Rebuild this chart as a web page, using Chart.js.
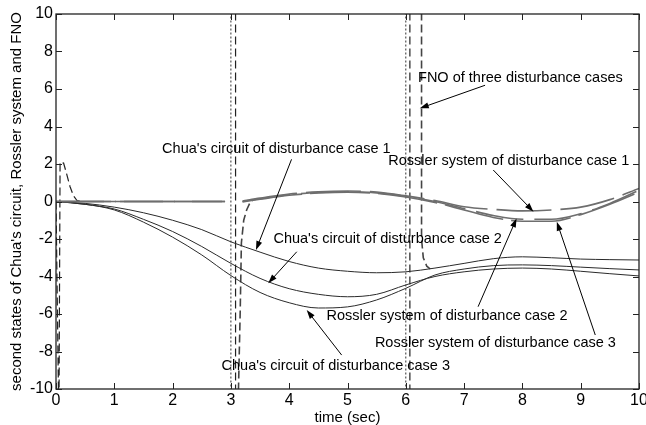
<!DOCTYPE html>
<html>
<head>
<meta charset="utf-8">
<script src="https://cdn.jsdelivr.net/npm/chart.js@4/dist/chart.umd.min.js"></script>
<style>
  html, body { margin: 0; padding: 0; background: #fff; }
  #wrap { width: 646px; height: 425px; }
</style>
</head>
<body>
<div id="wrap"><canvas id="chart"></canvas></div>
<script>
// time axis (sec) for the Chua's circuit states
const times = [0, 0.5, 1, 1.5, 2, 2.5, 3, 3.5, 4, 4.5, 5, 5.5, 6, 6.5, 7, 7.5, 8, 8.5, 9, 9.5, 10];
const chua1 = [0, -0.1, -0.3, -0.6, -1.0, -1.5, -2.15, -2.7, -3.2, -3.55, -3.72, -3.8, -3.75, -3.55, -3.3, -3.05, -2.95, -3.0, -3.07, -3.1, -3.12];
const chua2 = [0, -0.15, -0.4, -0.95, -1.6, -2.4, -3.3, -4.1, -4.65, -4.95, -5.08, -4.95, -4.45, -4.0, -3.75, -3.6, -3.55, -3.6, -3.72, -3.85, -3.97];
const chua3 = [0, -0.15, -0.45, -1.1, -1.9, -2.85, -3.95, -4.85, -5.4, -5.68, -5.62, -5.25, -4.63, -3.92, -3.6, -3.42, -3.38, -3.42, -3.5, -3.58, -3.65];

// Rossler system states (gap while the FNO switches at t = 3)
const rosslerTimes = [0, 0.5, 1, 1.5, 2, 2.5, 2.9, 3.05, 3.2, 3.5, 4, 4.5, 5, 5.5, 6, 6.5, 7, 7.5, 8, 8.5, 9, 9.5, 10];
const rossler1 = [0, 0, 0, 0, 0, 0, 0, null, 0.02, 0.18, 0.4, 0.52, 0.56, 0.5, 0.3, 0.05, -0.28, -0.42, -0.5, -0.45, -0.3, 0.1, 0.7];
const rossler2 = [0, 0, 0, 0, 0, 0, 0, null, 0.0, 0.15, 0.36, 0.48, 0.52, 0.46, 0.27, 0.0, -0.38, -0.75, -0.95, -0.95, -0.65, -0.1, 0.6];
const rossler3 = [0, 0, 0, 0, 0, 0, 0, null, -0.02, 0.12, 0.33, 0.45, 0.5, 0.43, 0.24, -0.05, -0.45, -0.85, -1.05, -1.05, -0.7, -0.15, 0.5];

// FNO switching transients (values beyond +/-10 run off the plot)
const fno1Times = [3.0, 3.0, 3.05, 6.0, 6.0];
const fno1 = [12, -12, null, 12, -12];
const fno2Times = [0, 0.05, 0.07, 0.13, 0.18, 0.24, 0.3, 0.36, 0.45, 0.5, 3.08, 3.08, 3.1, 6.07, 6.07];
const fno2 = [0, -12, 2.1, 2.05, 1.5, 0.8, 0.3, 0.05, 0, null, 12, -12, null, 12, -12];
const fno3Times = [3.12, 3.13, 3.16, 3.18, 3.22, 3.27, 3.33, 3.38, 3.5, 6.27, 6.27, 6.3, 6.36, 6.42];
const fno3 = [-12, -10, -5.8, -2.2, -1.0, -0.45, -0.05, 0.08, null, 12, -2.0, -3.0, -3.45, -3.6];

const xTicks = [0, 1, 2, 3, 4, 5, 6, 7, 8, 9, 10];
const yTicks = [-10, -8, -6, -4, -2, 0, 2, 4, 6, 8, 10];

// labels: text, text position (t, y baseline), arrow tail, arrow head
const noteTexts = [
  'FNO of three disturbance cases',
  "Chua's circuit of disturbance case 1",
  'Rossler system of disturbance case 1',
  "Chua's circuit of disturbance case 2",
  'Rossler system of disturbance case 2',
  'Rossler system of disturbance case 3',
  "Chua's circuit of disturbance case 3"
];
const notePos = [[6.21, 6.37], [1.82, 2.6], [5.7, 1.95], [3.73, -2.2], [4.64, -6.32], [5.47, -7.76], [2.84, -8.99]];
const arrowFrom = [[7.36, 6.2], [4.04, 2.25], [7.5, 1.68], [4.13, -2.68], [7.24, -5.61], [9.25, -7.12], [4.9, -8.19]];
const arrowTo = [[6.24, 4.97], [3.43, -2.59], [8.19, -0.54], [3.64, -4.36], [7.9, -0.9], [8.59, -1.08], [4.3, -5.79]];

const pts = (xs, ys) => xs.map((x, i) => ({ x: x, y: ys[i] }));

Chart.defaults.font.family = '"Liberation Sans", Arial, sans-serif';
Chart.defaults.color = '#000';

const frame = {
  id: 'frame',
  afterDatasetsDraw(chart) {
    const { ctx, chartArea: a, scales: { x, y } } = chart;
    ctx.save();
    ctx.strokeStyle = '#222';
    ctx.lineWidth = 1.3;
    ctx.strokeRect(a.left, a.top, a.right - a.left, a.bottom - a.top);
    ctx.lineWidth = 1;
    ctx.beginPath();
    xTicks.forEach(v => {
      const px = Math.round(x.getPixelForValue(v)) + 0.5;
      ctx.moveTo(px, a.bottom); ctx.lineTo(px, a.bottom - 6);
      ctx.moveTo(px, a.top); ctx.lineTo(px, a.top + 6);
    });
    yTicks.forEach(v => {
      const py = Math.round(y.getPixelForValue(v)) + 0.5;
      ctx.moveTo(a.left, py); ctx.lineTo(a.left + 6, py);
      ctx.moveTo(a.right, py); ctx.lineTo(a.right - 6, py);
    });
    ctx.stroke();
    ctx.restore();
  }
};

const notes = {
  id: 'notes',
  afterDraw(chart) {
    const { ctx, scales: { x, y } } = chart;
    ctx.save();
    ctx.font = '14.5px "Liberation Sans", Arial, sans-serif';
    ctx.fillStyle = '#000';
    ctx.textBaseline = 'alphabetic';
    ctx.textAlign = 'left';
    noteTexts.forEach((txt, i) => {
      ctx.fillText(txt, x.getPixelForValue(notePos[i][0]), y.getPixelForValue(notePos[i][1]));
      const x0 = x.getPixelForValue(arrowFrom[i][0]), y0 = y.getPixelForValue(arrowFrom[i][1]);
      const x1 = x.getPixelForValue(arrowTo[i][0]), y1 = y.getPixelForValue(arrowTo[i][1]);
      const ang = Math.atan2(y1 - y0, x1 - x0);
      ctx.strokeStyle = '#000';
      ctx.lineWidth = 1;
      ctx.beginPath();
      ctx.moveTo(x0, y0);
      ctx.lineTo(x1 - 6 * Math.cos(ang), y1 - 6 * Math.sin(ang));
      ctx.stroke();
      ctx.beginPath();
      ctx.moveTo(x1, y1);
      ctx.lineTo(x1 - 9 * Math.cos(ang) + 3 * Math.sin(ang), y1 - 9 * Math.sin(ang) - 3 * Math.cos(ang));
      ctx.lineTo(x1 - 9 * Math.cos(ang) - 3 * Math.sin(ang), y1 - 9 * Math.sin(ang) + 3 * Math.cos(ang));
      ctx.closePath();
      ctx.fill();
    });
    ctx.restore();
  }
};

const smooth = { pointRadius: 0, fill: false, cubicInterpolationMode: 'monotone', spanGaps: false };
const sharp = { pointRadius: 0, fill: false, tension: 0, spanGaps: false };

new Chart(document.getElementById('chart'), {
  type: 'line',
  data: {
    datasets: [
      { label: 'Rossler 1', data: pts(rosslerTimes, rossler1), borderColor: '#6e6e6e', borderWidth: 1.6, borderDash: [55, 9], ...smooth },
      { label: 'Rossler 2', data: pts(rosslerTimes, rossler2), borderColor: '#6e6e6e', borderWidth: 1.6, borderDash: [48, 11], ...smooth },
      { label: 'Rossler 3', data: pts(rosslerTimes, rossler3), borderColor: '#6e6e6e', borderWidth: 1.6, borderDash: [60, 8], ...smooth },
      { label: 'Chua 1', data: pts(times, chua1), borderColor: '#2a2a2a', borderWidth: 1, ...smooth },
      { label: 'Chua 2', data: pts(times, chua2), borderColor: '#2a2a2a', borderWidth: 1, ...smooth },
      { label: 'Chua 3', data: pts(times, chua3), borderColor: '#2a2a2a', borderWidth: 1, ...smooth },
      { label: 'FNO 1', data: pts(fno1Times, fno1), borderColor: '#333', borderWidth: 1, borderDash: [2, 2], ...sharp },
      { label: 'FNO 2', data: pts(fno2Times, fno2), borderColor: '#222', borderWidth: 1.2, borderDash: [8, 4], ...sharp },
      { label: 'FNO 3', data: pts(fno3Times, fno3), borderColor: '#444', borderWidth: 1.6, borderDash: [8, 4], ...sharp }
    ]
  },
  options: {
    responsive: true,
    maintainAspectRatio: false,
    animation: false,
    layout: { padding: { top: 14, right: 7, left: 0, bottom: 0 } },
    plugins: { legend: { display: false }, tooltip: { enabled: false } },
    scales: {
      x: {
        type: 'linear', min: 0, max: 10,
        afterBuildTicks: s => { s.ticks = xTicks.map(v => ({ value: v })); },
        afterFit: s => { s.height = 36; s.paddingLeft = 0; s.paddingRight = 0; },
        grid: { display: false, drawTicks: false },
        border: { display: false },
        ticks: { font: { size: 16 }, padding: 2, maxRotation: 0 },
        title: { display: true, text: 'time (sec)', font: { size: 15 }, padding: { top: 0, bottom: -2 } }
      },
      y: {
        type: 'linear', min: -10, max: 10,
        afterBuildTicks: s => { s.ticks = yTicks.map(v => ({ value: v })); },
        afterFit: s => { s.width = 56; s.paddingTop = 0; s.paddingBottom = 0; },
        grid: { display: false, drawTicks: false },
        border: { display: false },
        ticks: { font: { size: 16 }, padding: 3 },
        title: { display: true, text: "second states of Chua's circuit, Rossler system and FNO", font: { size: 15 }, padding: { top: 8, bottom: 0 } }
      }
    }
  },
  plugins: [frame, notes]
});
</script>
</body>
</html>
